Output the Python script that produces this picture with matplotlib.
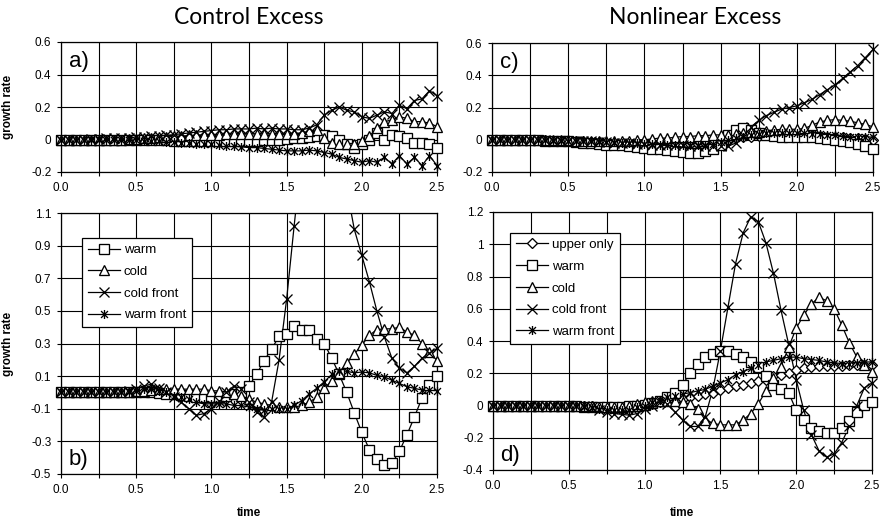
import numpy as np
import matplotlib
matplotlib.use('Agg')
import matplotlib.pyplot as plt
from matplotlib.path import Path

plt.rcParams['font.family'] = ['Liberation Sans', 'DejaVu Sans']

# time grid of the model output (every 0.05)
time = np.linspace(0, 2.5, 51)

# ---- a) control excess, upper panel
warm_a = [0, 0, 0, 0, 0, 0, 0, 0, 0, 0,
          0, 0, -0.005, -0.005, -0.005, -0.01, -0.01, -0.01, -0.01, -0.01,
          -0.01, -0.01, -0.01, -0.01, -0.01, -0.01, -0.01, -0.005, 0.0, 0.0,
          0.005, 0.01, 0.01, 0.015, 0.02, 0.03, 0.02, 0.0, -0.03, -0.05,
          -0.03, 0.0, 0.04, 0.0, 0.03, 0.02, 0.01, -0.02, -0.02, -0.03,
          -0.05]
cold_a = [0, 0, 0, 0, 0, 0, 0, 0, 0, 0.005,
          0.005, 0.01, 0.01, 0.015, 0.015, 0.02, 0.02, 0.025, 0.025, 0.03,
          0.03, 0.03, 0.035, 0.035, 0.035, 0.035, 0.035, 0.035, 0.035, 0.035,
          0.035, 0.035, 0.04, 0.05, 0.06, 0.01, -0.02, -0.025, -0.03, -0.03,
          -0.01, 0.02, 0.07, 0.11, 0.12, 0.14, 0.13, 0.11, 0.11, 0.10,
          0.08]
coldfront_a = [0, 0, 0, 0, 0.005, 0.005, 0.01, 0.01, 0.01, 0.01,
               0.015, 0.015, 0.02, 0.02, 0.025, 0.03, 0.035, 0.04, 0.045, 0.05,
               0.055, 0.06, 0.06, 0.065, 0.065, 0.065, 0.07, 0.065, 0.07, 0.065,
               0.065, 0.06, 0.06, 0.07, 0.09, 0.15, 0.18, 0.20, 0.18, 0.17,
               0.14, 0.13, 0.15, 0.17, 0.16, 0.21, 0.19, 0.24, 0.25, 0.30,
               0.27]
warmfront_a = [0, 0, 0, 0, 0, 0, 0, 0, 0, -0.005,
               -0.005, -0.01, -0.01, -0.01, -0.015, -0.015, -0.02, -0.02, -0.025, -0.03,
               -0.03, -0.035, -0.04, -0.04, -0.045, -0.05, -0.05, -0.055, -0.06, -0.065,
               -0.07, -0.07, -0.07, -0.065, -0.07, -0.08, -0.09, -0.11, -0.12, -0.13,
               -0.14, -0.13, -0.14, -0.11, -0.15, -0.10, -0.15, -0.11, -0.16, -0.10,
               -0.16]

# ---- b) control excess, lower panel
warm_b = [0, 0, 0, 0, 0, 0, 0, 0, 0, 0,
          0, 0, 0, -0.005, -0.01, -0.01, -0.015, -0.02, -0.025, -0.03,
          -0.03, -0.03, -0.02, -0.01, 0.0, 0.04, 0.11, 0.195, 0.265, 0.345,
          0.36, 0.405, 0.38, 0.385, 0.325, 0.30, 0.21, 0.11, 0.0, -0.125,
          -0.245, -0.35, -0.405, -0.445, -0.435, -0.36, -0.26, -0.15, -0.035, 0.045,
          0.10]
cold_b = [0, 0, 0, 0, 0, 0, 0, 0, 0, 0.005,
          0.01, 0.01, 0.015, 0.02, 0.02, 0.02, 0.02, 0.02, 0.02, 0.02,
          0.01, 0.01, 0.0, -0.01, -0.02, -0.04, -0.06, -0.07, -0.08, -0.09,
          -0.09, -0.09, -0.08, -0.06, -0.03, 0.025, 0.07, 0.12, 0.18, 0.235,
          0.29, 0.35, 0.385, 0.39, 0.39, 0.40, 0.37, 0.35, 0.30, 0.25,
          0.195]
coldfront_b = [0, 0, 0, 0, 0, 0, 0, 0, 0, 0.01,
               0.02, 0.04, 0.05, 0.03, 0.0, -0.03, -0.06, -0.10, -0.14, -0.13,
               -0.10, -0.05, 0.0, 0.04, 0.02, -0.06, -0.12, -0.15, -0.06, 0.20,
               0.57, 1.02, 1.45, 1.75, 1.9, 1.9, 1.75, 1.5, 1.25, 1.0,
               0.84, 0.68, 0.50, 0.34, 0.21, 0.15, 0.12, 0.16, 0.21, 0.24,
               0.27]
warmfront_b = [0, 0, 0, 0, 0, 0, 0, 0, 0, 0.005,
               0.01, 0.02, 0.02, 0.01, 0.0, -0.02, -0.03, -0.04, -0.06, -0.07,
               -0.07, -0.07, -0.07, -0.08, -0.08, -0.09, -0.10, -0.11, -0.10, -0.10,
               -0.10, -0.08, -0.05, -0.01, 0.025, 0.065, 0.11, 0.13, 0.13, 0.12,
               0.125, 0.12, 0.105, 0.095, 0.075, 0.055, 0.035, 0.025, 0.015, 0.015,
               0.01]

# ---- c) nonlinear excess, upper panel
upper_c = [0, 0, 0, 0, 0, 0, 0, 0, -0.005, -0.005,
           -0.01, -0.01, -0.01, -0.015, -0.015, -0.02, -0.02, -0.02, -0.025, -0.025,
           -0.025, -0.03, -0.03, -0.03, -0.03, -0.03, -0.025, -0.025, -0.02, -0.015,
           -0.01, 0.0, 0.01, 0.015, 0.02, 0.025, 0.03, 0.03, 0.035, 0.035,
           0.035, 0.03, 0.03, 0.025, 0.02, 0.02, 0.015, 0.01, 0.01, 0.005,
           0.0]
warm_c = [0, 0, 0, 0, 0, 0, 0, -0.005, -0.005, -0.01,
          -0.01, -0.015, -0.02, -0.02, -0.025, -0.03, -0.03, -0.035, -0.04, -0.045,
          -0.05, -0.055, -0.06, -0.065, -0.07, -0.075, -0.08, -0.08, -0.07, -0.055,
          -0.03, 0.03, 0.06, 0.07, 0.06, 0.04, 0.03, 0.025, 0.02, 0.02,
          0.02, 0.02, 0.015, 0.01, 0.005, 0.0, -0.01, -0.015, -0.025, -0.04,
          -0.06]
cold_c = [0, 0, 0, 0, 0, 0, 0, 0, 0, 0,
          0, -0.005, -0.005, -0.01, -0.01, -0.01, -0.01, -0.01, -0.005, 0.0,
          0.0, 0.005, 0.01, 0.01, 0.015, 0.02, 0.02, 0.025, 0.025, 0.03,
          0.03, 0.03, 0.035, 0.04, 0.045, 0.05, 0.055, 0.06, 0.065, 0.065,
          0.065, 0.07, 0.09, 0.11, 0.12, 0.125, 0.12, 0.115, 0.105, 0.095,
          0.08]
coldfront_c = [0, 0, 0, 0, 0, 0, 0, 0, -0.005, -0.005,
               -0.005, -0.01, -0.01, -0.01, -0.015, -0.015, -0.02, -0.02, -0.02, -0.025,
               -0.025, -0.03, -0.03, -0.03, -0.035, -0.035, -0.04, -0.04, -0.04, -0.04,
               -0.04, -0.04, -0.02, 0.03, 0.08, 0.12, 0.15, 0.17, 0.19, 0.20,
               0.21, 0.23, 0.25, 0.28, 0.31, 0.34, 0.38, 0.42, 0.46, 0.51,
               0.56]
warmfront_c = [0, 0, 0, 0, 0, 0, 0, 0, 0, 0,
               -0.005, -0.005, -0.01, -0.01, -0.01, -0.015, -0.015, -0.02, -0.02, -0.02,
               -0.025, -0.025, -0.03, -0.03, -0.035, -0.035, -0.035, -0.035, -0.03, -0.025,
               -0.015, 0.0, 0.01, 0.02, 0.03, 0.035, 0.04, 0.04, 0.04, 0.04,
               0.04, 0.04, 0.035, 0.035, 0.03, 0.03, 0.025, 0.02, 0.02, 0.02,
               0.015]

# ---- d) nonlinear excess, lower panel
upper_d = [0, 0, 0, 0, 0, 0, 0, 0, 0, 0,
           0, 0, -0.005, -0.005, -0.01, -0.01, -0.01, -0.01, -0.005, 0.0,
           0.005, 0.01, 0.02, 0.025, 0.03, 0.04, 0.05, 0.06, 0.07, 0.08,
           0.095, 0.11, 0.12, 0.13, 0.14, 0.15, 0.16, 0.18, 0.19, 0.20,
           0.22, 0.23, 0.24, 0.245, 0.245, 0.245, 0.245, 0.25, 0.25, 0.25,
           0.25]
warm_d = [0, 0, 0, 0, 0, 0, 0, 0, 0, 0,
          -0.005, -0.005, -0.01, -0.01, -0.01, -0.01, -0.01, -0.01, -0.005, 0.0,
          0.005, 0.015, 0.03, 0.05, 0.08, 0.13, 0.20, 0.26, 0.30, 0.32,
          0.34, 0.337, 0.32, 0.30, 0.27, 0.24, 0.18, 0.13, 0.10, 0.08,
          -0.03, -0.09, -0.14, -0.16, -0.17, -0.17, -0.14, -0.095, -0.04, 0.005,
          0.02]
cold_d = [0, 0, 0, 0, 0, 0, 0, 0, 0, 0,
          0, 0, -0.005, -0.005, -0.01, -0.01, -0.01, -0.01, 0.0, 0.01,
          0.02, 0.03, 0.03, 0.03, 0.025, 0.02, 0.01, -0.02, -0.09, -0.11,
          -0.12, -0.12, -0.12, -0.09, -0.05, 0.01, 0.09, 0.17, 0.24, 0.36,
          0.48, 0.56, 0.63, 0.67, 0.65, 0.60, 0.50, 0.39, 0.30, 0.25,
          0.21]
coldfront_d = [0, 0, 0, 0, 0, 0, 0, 0, 0, 0,
               0, 0, -0.005, -0.01, -0.03, -0.04, -0.05, -0.055, -0.06, -0.05,
               -0.02, 0.0, 0.02, 0.01, -0.04, -0.09, -0.13, -0.13, -0.07, 0.10,
               0.34, 0.61, 0.88, 1.07, 1.17, 1.14, 1.01, 0.82, 0.59, 0.38,
               0.16, -0.03, -0.18, -0.28, -0.32, -0.30, -0.23, -0.13, 0.0, 0.11,
               0.14]
warmfront_d = [0, 0, 0, 0, 0, 0, 0, 0, 0, 0,
               0, -0.005, -0.01, -0.015, -0.02, -0.025, -0.03, -0.03, -0.025, -0.01,
               0.0, 0.02, 0.035, 0.05, 0.06, 0.07, 0.08, 0.09, 0.10, 0.12,
               0.14, 0.16, 0.19, 0.21, 0.23, 0.25, 0.27, 0.28, 0.29, 0.30,
               0.30, 0.29, 0.285, 0.28, 0.27, 0.265, 0.26, 0.26, 0.265, 0.27,
               0.27]

# excel style "star": an x with a vertical bar through it
STAR = Path([(-1, -1), (1, 1), (-1, 1), (1, -1), (0, -1.3), (0, 1.3)],
            [Path.MOVETO, Path.LINETO] * 3)
STYLE = {'upper only': dict(marker='D', ms=5.5),
         'warm': dict(marker='s', ms=6.5),
         'cold': dict(marker='^', ms=7.5),
         'cold front': dict(marker='x', ms=7),
         'warm front': dict(marker=STAR, ms=6.5)}


def draw(ax, y, key, ylim):
    y = np.asarray(y, dtype=float)
    ax.plot(time, y, color='black', lw=0.9, zorder=3)
    m = (y >= ylim[0]) & (y <= ylim[1])
    ax.plot(time[m], y[m], ls='none', color='black', mfc='white', mew=0.95,
            clip_on=False, zorder=4, **STYLE[key])


def setup(ax, ylim, step, tag, tag_top):
    ax.set_xlim(0, 2.5)
    ax.set_ylim(*ylim)
    xt = np.arange(0, 2.51, 0.25)
    ax.set_xticks(xt, ['%.1f' % v if i % 2 == 0 else '' for i, v in enumerate(xt)])
    yt = np.round(np.arange(ylim[0], ylim[1] + 1e-9, step), 2)
    ax.set_yticks(yt, ['%g' % v for v in yt])
    ax.grid(True, color='black', lw=0.8)
    ax.set_axisbelow(True)
    ax.tick_params(direction='out', length=3, width=0.8, labelsize=8.5, pad=4)
    for s in ax.spines.values():
        s.set_linewidth(0.9)
    if tag_top:
        ax.text(0.02, 0.93, tag, transform=ax.transAxes, fontsize=16, va='top', zorder=6)
    else:
        ax.text(0.02, 0.015, tag, transform=ax.transAxes, fontsize=16, va='bottom', zorder=6)


W, H = 888, 526
fig = plt.figure(figsize=(W / 100, H / 100), dpi=100)
ax_a = fig.add_axes([61 / W, 1 - 172 / H, 376 / W, 130 / H])
ax_b = fig.add_axes([61 / W, 1 - 474 / H, 376 / W, 261 / H])
ax_c = fig.add_axes([492 / W, 1 - 172 / H, 381 / W, 129 / H])
ax_d = fig.add_axes([493 / W, 1 - 470 / H, 379 / W, 258 / H])

lim_top = (-0.2, 0.6)
lim_b = (-0.5, 1.1)
lim_d = (-0.4, 1.2)

for y, k in [(warm_a, 'warm'), (cold_a, 'cold'), (coldfront_a, 'cold front'), (warmfront_a, 'warm front')]:
    draw(ax_a, y, k, lim_top)
for y, k in [(warm_b, 'warm'), (cold_b, 'cold'), (coldfront_b, 'cold front'), (warmfront_b, 'warm front')]:
    draw(ax_b, y, k, lim_b)
for y, k in [(upper_c, 'upper only'), (warm_c, 'warm'), (cold_c, 'cold'),
             (coldfront_c, 'cold front'), (warmfront_c, 'warm front')]:
    draw(ax_c, y, k, lim_top)
for y, k in [(upper_d, 'upper only'), (warm_d, 'warm'), (cold_d, 'cold'),
             (coldfront_d, 'cold front'), (warmfront_d, 'warm front')]:
    draw(ax_d, y, k, lim_d)

setup(ax_a, lim_top, 0.2, 'a)', True)
setup(ax_b, lim_b, 0.2, 'b)', False)
setup(ax_c, lim_top, 0.2, 'c)', True)
setup(ax_d, lim_d, 0.2, 'd)', False)


def legend(ax, keys, anchor):
    hs = [ax.plot([], [], color='black', lw=0.9, mfc='white', mew=0.95, label=k, **STYLE[k])[0]
          for k in keys]
    lg = ax.legend(handles=hs, loc='upper left', bbox_to_anchor=anchor, fontsize=9.5,
                   frameon=True, fancybox=False, edgecolor='black', framealpha=1,
                   handlelength=2.4, handletextpad=0.3, borderpad=0.45, labelspacing=0.72,
                   borderaxespad=0)
    lg.get_frame().set_linewidth(0.9)
    lg.set_zorder(10)


legend(ax_b, ['warm', 'cold', 'cold front', 'warm front'], (0.056, 0.904))
legend(ax_d, ['upper only', 'warm', 'cold', 'cold front', 'warm front'], (0.045, 0.919))

for ax in (ax_a, ax_b):
    ax.set_ylabel('growth rate', fontsize=8.5, fontweight='bold')
    ax.yaxis.set_label_coords(-0.125, 0.5)

fig.text(249 / W, 1 - 513 / H, 'time', ha='center', va='center', fontsize=8.5, fontweight='bold')
fig.text(682 / W, 1 - 513 / H, 'time', ha='center', va='center', fontsize=8.5, fontweight='bold')
fig.text(249 / W, 1 - 18 / H, 'Control Excess', ha='center', va='center', fontsize=16.5,
         family=['Lato', 'DejaVu Sans'])
fig.text(695 / W, 1 - 18 / H, 'Nonlinear Excess', ha='center', va='center', fontsize=16.5,
         family=['Lato', 'DejaVu Sans'])

fig.savefig('out.png', dpi=100)
